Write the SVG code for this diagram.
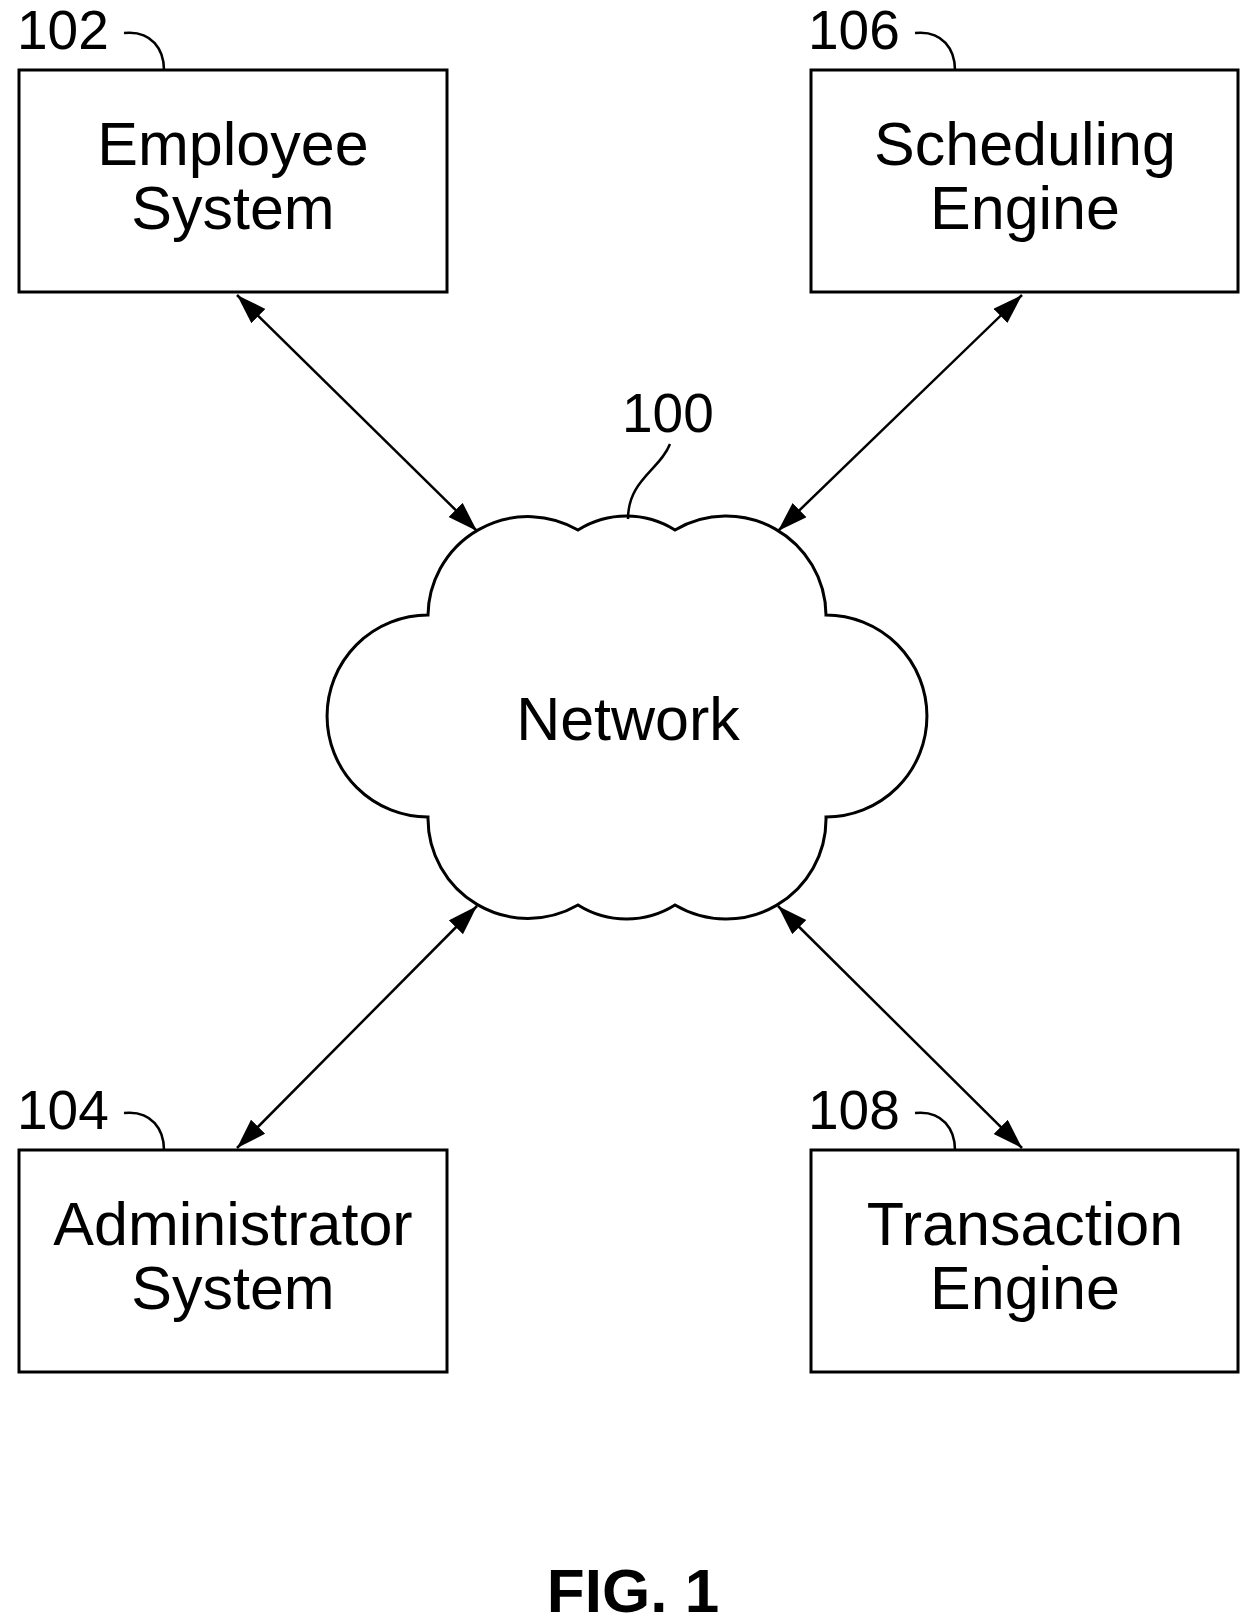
<svg xmlns="http://www.w3.org/2000/svg" width="1256" height="1622" viewBox="0 0 1256 1622">
<style>
.box{fill:#fff;stroke:#000;stroke-width:3}
.t{font-family:"Liberation Sans",Arial,sans-serif;font-size:61px;fill:#000;text-anchor:middle}
.lbl{font-family:"Liberation Sans",Arial,sans-serif;font-size:55px;fill:#000}
.lead{fill:none;stroke:#000;stroke-width:2.5}
.c{stroke:#000;stroke-width:2.5;fill:none;marker-start:url(#ah);marker-end:url(#ah)}
</style>
<defs>
<marker id="ah" markerUnits="userSpaceOnUse" markerWidth="34" markerHeight="24" refX="30" refY="10" orient="auto-start-reverse">
<path d="M0,0 L30,10 L0,20 Z" fill="#000"/>
</marker>
</defs>
<rect width="1256" height="1622" fill="#fff"/>
<g id="connectors">
<line class="c" x1="237" y1="295" x2="477" y2="531"/>
<line class="c" x1="1022" y1="295" x2="778" y2="531"/>
<line class="c" x1="237" y1="1148" x2="477" y2="906"/>
<line class="c" x1="1022" y1="1148" x2="778" y2="906"/>
</g>
<g id="n102">
<rect class="box" x="19" y="70" width="428" height="222"/>
<text class="t" x="233" y="165">Employee</text>
<text class="t" x="233" y="229">System</text>
<text class="lbl" x="17" y="49">102</text>
<path class="lead" d="M124,33 C152,30 164,50 164,70"/>
</g>
<g id="n106">
<rect class="box" x="811" y="70" width="427" height="222"/>
<text class="t" x="1025" y="165">Scheduling</text>
<text class="t" x="1025" y="229">Engine</text>
<text class="lbl" x="808" y="49">106</text>
<path class="lead" d="M915,33 C943,30 955,50 955,70"/>
</g>
<g id="n104">
<rect class="box" x="19" y="1150" width="428" height="222"/>
<text class="t" x="233" y="1245">Administrator</text>
<text class="t" x="233" y="1309">System</text>
<text class="lbl" x="17" y="1129">104</text>
<path class="lead" d="M124,1113 C152,1110 164,1130 164,1150"/>
</g>
<g id="n108">
<rect class="box" x="811" y="1150" width="427" height="222"/>
<text class="t" x="1025" y="1245">Transaction</text>
<text class="t" x="1025" y="1309">Engine</text>
<text class="lbl" x="808" y="1129">108</text>
<path class="lead" d="M915,1113 C943,1110 955,1130 955,1150"/>
</g>
<g id="n100">
<path class="box" stroke-width="2.5" d="M428,817 A101,101 0 0 1 428,615 A100,100 0 0 1 578,530 A91,91 0 0 1 675,530 A100,100 0 0 1 826,615 A101,101 0 0 1 826,817 A100,100 0 0 1 675,905 A91,91 0 0 1 578,905 A100,100 0 0 1 428,817 Z"/>
<text class="t" x="628" y="740">Network</text>
<text class="lbl" x="622" y="432">100</text>
<path class="lead" d="M670,444 C660,470 628,480 628,519"/>
</g>
<text x="633" y="1612" font-family="Liberation Sans,Arial,sans-serif" font-weight="bold" font-size="62" text-anchor="middle">FIG. 1</text>
</svg>
